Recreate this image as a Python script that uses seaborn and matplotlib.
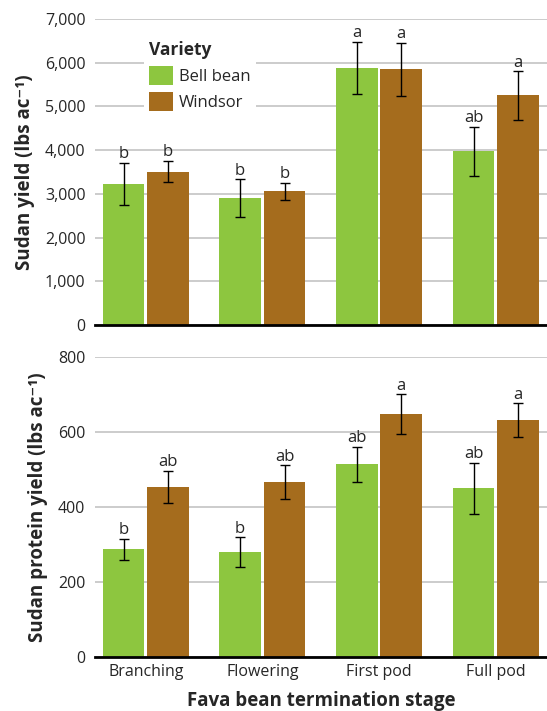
import pandas as pd
import numpy as np
import matplotlib
matplotlib.use("Agg")
import matplotlib.pyplot as plt
import matplotlib.ticker as mticker
from matplotlib.patches import Patch
import seaborn as sns

# データ
stages = ["Branching", "Flowering", "First pod", "Full pod"]
varieties = ["Bell bean", "Windsor"]

yield_bell = [3225, 2900, 5880, 3970]
yield_windsor = [3510, 3055, 5850, 5250]
yield_err_bell = [490, 430, 600, 555]
yield_err_windsor = [250, 195, 610, 550]
yield_letters_bell = ["b", "b", "a", "ab"]
yield_letters_windsor = ["b", "b", "a", "a"]

protein_bell = [288, 280, 514, 450]
protein_windsor = [453, 466, 647, 631]
protein_err_bell = [28, 39, 46, 68]
protein_err_windsor = [43, 45, 53, 45]
protein_letters_bell = ["b", "b", "ab", "ab"]
protein_letters_windsor = ["ab", "ab", "a", "a"]

colors = ["#8DC63F", "#A56C1D"]

sns.set_style("white")
plt.rcParams["font.family"] = ["Open Sans", "DejaVu Sans"]


def make_df(bell, windsor):
    return pd.DataFrame({
        "stage": stages * 2,
        "variety": [varieties[0]] * 4 + [varieties[1]] * 4,
        "value": list(bell) + list(windsor),
    })


def draw_panel(ax, bell, windsor, err_b, err_w, let_b, let_w, ymax, step, ylabel, pad):
    df = make_df(bell, windsor)
    sns.barplot(data=df, x="stage", y="value", hue="variety", order=stages,
                hue_order=varieties, palette=colors, errorbar=None,
                width=0.76, gap=0.06, saturation=1, linewidth=0,
                ax=ax, legend=False, zorder=2)
    for cont, vals, errs, lets in zip(ax.containers, [bell, windsor],
                                      [err_b, err_w], [let_b, let_w]):
        xs = [p.get_x() + p.get_width() / 2 for p in cont.patches]
        ax.errorbar(xs, vals, yerr=errs, fmt="none", ecolor="black",
                    elinewidth=1.0, capsize=3.5, capthick=1.0, zorder=3)
        for x, v, e, t in zip(xs, vals, errs, lets):
            ax.text(x, v + e + pad, t, ha="center", va="bottom", fontsize=12, zorder=4)
    ax.set_xlim(-0.433, 3.44)
    ax.set_ylim(0, ymax)
    ax.set_yticks(np.arange(0, ymax + 1, step))
    ax.yaxis.set_major_formatter(mticker.FuncFormatter(lambda v, p: f"{int(v):,}"))
    ax.yaxis.grid(True, color="#c8c8c8", lw=1.3, zorder=0)
    ax.set_axisbelow(True)
    for s in ["top", "right", "left"]:
        ax.spines[s].set_visible(False)
    ax.spines["bottom"].set_color("black")
    ax.spines["bottom"].set_linewidth(2)
    ax.spines["bottom"].set_zorder(5)
    ax.tick_params(axis="y", length=4, width=1.3, color="#c8c8c8", labelsize=11.5, pad=3)
    ax.tick_params(axis="x", length=0, labelsize=11.5, pad=5)
    ax.set_ylabel(ylabel, fontsize=13.5, fontweight="bold", labelpad=7)
    ax.set_xlabel("")


fig = plt.figure(figsize=(5.47, 7.11), dpi=100)
ax1 = fig.add_axes([0.174, 0.5429, 0.826, 0.4304])
ax2 = fig.add_axes([0.174, 0.0759, 0.826, 0.4220])

draw_panel(ax1, yield_bell, yield_windsor, yield_err_bell, yield_err_windsor,
           yield_letters_bell, yield_letters_windsor, 7000, 1000,
           "Sudan yield (lbs ac⁻¹)", 20)
draw_panel(ax2, protein_bell, protein_windsor, protein_err_bell, protein_err_windsor,
           protein_letters_bell, protein_letters_windsor, 800, 200,
           "Sudan protein yield (lbs ac⁻¹)", 2)

ax1.set_xticklabels([])
ax2.set_xlabel("Fava bean termination stage", fontsize=13.5, fontweight="bold", labelpad=8)

handles = [Patch(facecolor=c, edgecolor="none", label=v) for c, v in zip(colors, varieties)]
leg = ax1.legend(handles=handles, title="Variety", loc="upper left",
                 bbox_to_anchor=(0.09, 0.97), frameon=True, fontsize=12,
                 title_fontproperties={"weight": "bold", "size": 12.5},
                 handlelength=1.4, handleheight=1.4, handletextpad=0.4,
                 labelspacing=0.4, borderpad=0.3, alignment="left")
leg.get_frame().set_facecolor("white")
leg.get_frame().set_edgecolor("none")
leg.get_frame().set_alpha(1)
leg.set_zorder(6)

fig.savefig("out.png", dpi=100)
